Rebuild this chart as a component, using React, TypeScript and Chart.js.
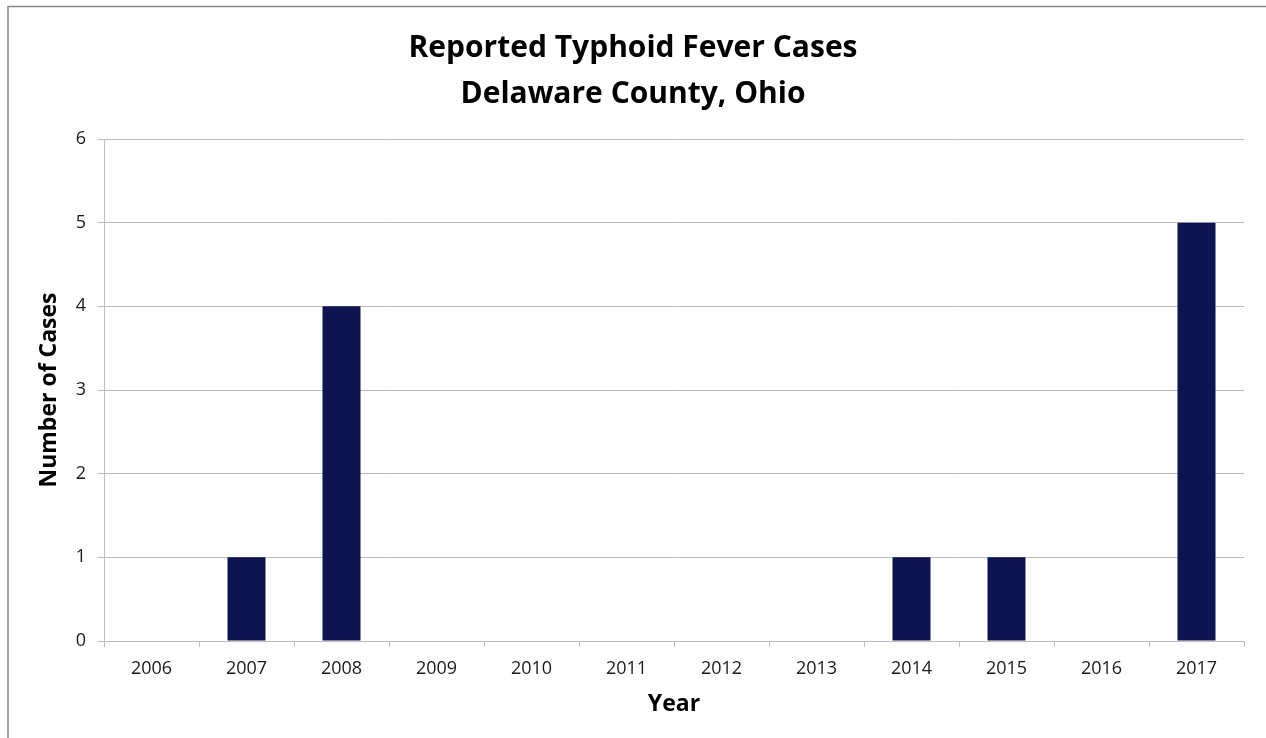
import { useEffect, useRef } from "react";
import { Chart, registerables } from "chart.js";

Chart.register(...registerables);

// Reported typhoid fever cases per year
const years = ["2006", "2007", "2008", "2009", "2010", "2011", "2012", "2013", "2014", "2015", "2016", "2017"];
const cases = [0, 1, 4, 0, 0, 0, 0, 0, 1, 1, 0, 5];
const titleLines = ["Reported Typhoid Fever Cases", "Delaware County, Ohio"];
const yAxisTitle = "Number of Cases";
const xAxisTitle = "Year";

const W = 1266;
const H = 738;
const FONT = "'Open Sans', Lato, sans-serif";
const GRID = "#bdbdbd";
const BAR = "#0d1450";

// Background, outer frame and the two-line heading
const headerPlugin = {
  id: "header",
  beforeDraw(chart: any) {
    const ctx = chart.ctx as CanvasRenderingContext2D;
    ctx.save();
    ctx.fillStyle = "#ffffff";
    ctx.fillRect(0, 0, chart.width, chart.height);
    ctx.strokeStyle = "#878787";
    ctx.lineWidth = 1.5;
    ctx.beginPath();
    ctx.moveTo(8, chart.height);
    ctx.lineTo(8, 6.5);
    ctx.lineTo(chart.width, 6.5);
    ctx.stroke();
    ctx.fillStyle = "#000000";
    ctx.textAlign = "center";
    ctx.textBaseline = "alphabetic";
    ctx.font = `bold 30px ${FONT}`;
    ctx.fillText(titleLines[0], chart.width / 2, 57);
    ctx.fillText(titleLines[1], chart.width / 2, 103);
    ctx.restore();
  },
};

export default function App() {
  const canvasRef = useRef<HTMLCanvasElement | null>(null);

  useEffect(() => {
    const canvas = canvasRef.current;
    if (!canvas) return;
    const chart = new Chart(canvas, {
      type: "bar",
      data: {
        labels: years,
        datasets: [
          {
            label: "Cases",
            data: cases,
            backgroundColor: BAR,
            borderWidth: 0,
            categoryPercentage: 1,
            barPercentage: 0.4,
          },
        ],
      },
      options: {
        responsive: false,
        animation: false,
        layout: { padding: { top: 139, right: 22, left: 0, bottom: 0 } },
        plugins: {
          legend: { display: false },
          title: { display: false },
          tooltip: { enabled: false },
        },
        scales: {
          x: {
            offset: true,
            afterFit: (scale: any) => {
              scale.height = 97;
            },
            grid: {
              display: true,
              drawOnChartArea: false,
              drawTicks: true,
              tickLength: 6,
              color: GRID,
              offset: true,
            },
            border: { display: true, color: GRID, width: 1 },
            ticks: {
              color: "#1a1a1a",
              font: { family: FONT, size: 18 },
              padding: 11,
              maxRotation: 0,
            },
            title: {
              display: true,
              text: xAxisTitle,
              color: "#000000",
              font: { family: FONT, size: 23, weight: "bold" },
              padding: { top: 0, bottom: 20 },
            },
          },
          y: {
            min: 0,
            max: 6,
            afterFit: (scale: any) => {
              scale.width = 104;
            },
            grid: {
              color: GRID,
              tickLength: 6,
              drawTicks: true,
            },
            border: { display: true, color: GRID, width: 1 },
            ticks: {
              stepSize: 1,
              color: "#1a1a1a",
              font: { family: FONT, size: 18 },
              padding: 12,
            },
            title: {
              display: true,
              text: yAxisTitle,
              color: "#000000",
              font: { family: FONT, size: 23, weight: "bold" },
              padding: { top: 36, bottom: 0 },
            },
          },
        },
      },
      plugins: [headerPlugin],
    });
    return () => chart.destroy();
  }, []);

  return (
    <div style={{ position: "fixed", left: 0, top: 0, width: W, height: H, background: "#fff" }}>
      <canvas ref={canvasRef} width={W} height={H} style={{ display: "block", width: W, height: H }} />
    </div>
  );
}
